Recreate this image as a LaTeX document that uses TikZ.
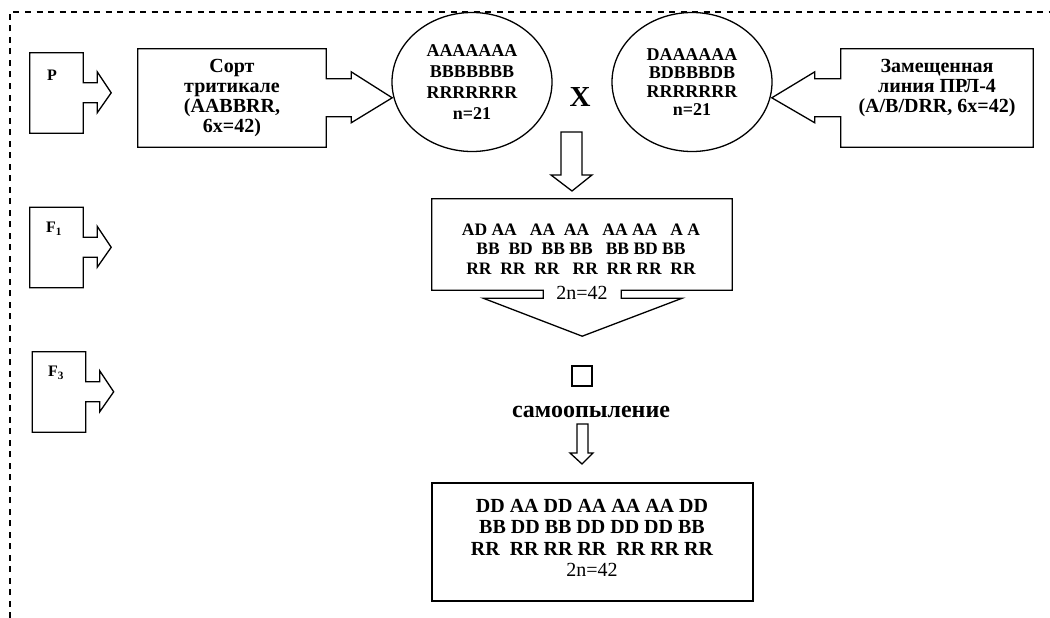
\documentclass[tikz,border=0pt]{standalone}
\usepackage{fontspec}
\setmainfont{Liberation Serif}
\usetikzlibrary{shapes.geometric}

\begin{document}
\begin{tikzpicture}[x=1pt, y=-1pt,
  frame/.style={line width=1.3pt, dash pattern=on 6pt off 5.5pt},
  outline/.style={draw, line width=1.3pt, line join=miter},
  genbox/.style={inner sep=0pt, minimum width=53pt, minimum height=80pt},
  genlabel/.style={inner sep=0pt, font=\fontsize{16}{16}\selectfont\bfseries},
  srcbox/.style={inner sep=0pt, minimum height=98pt},
  srctext/.style={align=center, inner sep=0pt, font=\fontsize{20}{19.7}\selectfont\bfseries},
  gamete/.style={draw, ellipse, line width=1.3pt, minimum width=160pt, minimum height=139pt, inner sep=0pt, align=center, font=\fontsize{18}{21}\selectfont\bfseries},
  fgeno/.style={align=center, inner sep=0pt, font=\fontsize{17.5}{19.5}\selectfont\bfseries},
  count/.style={inner sep=0pt, font=\fontsize{20}{20}\selectfont},
  resbox/.style={draw, line width=1.3pt, inner sep=0pt}
]
  \useasboundingbox (0,0) rectangle (1050,618);
  \draw[frame] (10,618) -- (10,12) -- (1050,12);

  % generation markers
  \node[genbox] (p) at (56.5,93) {};
  \node[genbox] (fone) at (56.5,247.5) {};
  \node[genbox] (fthree) at (59,392) {};
  \draw[outline] (p.north west) -- (p.north east) -- ++(0,30) -- ++(14,0) -- ++(0,-11) -- ++(14,21) -- ++(-14,20) -- ++(0,-10) -- ++(-14,0) -- (p.south east) -- (p.south west) -- cycle;
  \draw[outline] (fone.north west) -- (fone.north east) -- ++(0,30) -- ++(14,0) -- ++(0,-11) -- ++(14,21) -- ++(-14,20) -- ++(0,-10) -- ++(-14,0) -- (fone.south east) -- (fone.south west) -- cycle;
  \draw[outline] (fthree.north west) -- (fthree.north east) -- ++(0,30) -- ++(14,0) -- ++(0,-11) -- ++(14,21) -- ++(-14,20) -- ++(0,-10) -- ++(-14,0) -- (fthree.south east) -- (fthree.south west) -- cycle;
  \node[genlabel] (plab) at (52,75) {P};
  \node[genlabel] (fonelab) at (54,229) {F\textsubscript{1}};
  \node[genlabel] (fthreelab) at (56,373) {F\textsubscript{3}};

  % parents
  \node[srcbox, minimum width=188pt] (sort) at (232,98) {};
  \node[srcbox, minimum width=192pt] (zam) at (937,98) {};
  \draw[outline] (sort.north west) -- (sort.north east) -- ++(0,30) -- ++(25,0) -- ++(0,-7) -- ++(41,26) -- ++(-41,25) -- ++(0,-6) -- ++(-25,0) -- (sort.south east) -- (sort.south west) -- cycle;
  \draw[outline] (zam.north east) -- (zam.north west) -- ++(0,30) -- ++(-26,0) -- ++(0,-7) -- ++(-43,26) -- ++(43,25) -- ++(0,-6) -- ++(26,0) -- (zam.south west) -- (zam.south east) -- cycle;
  \node[srctext] (sorttext) at (sort) {Сорт\\тритикале\\(AABBRR,\\6x=42)};
  \node[srctext] (zamtext) at (937,88) {Замещенная\\линия ПРЛ-4\\(A/B/DRR, 6x=42)};

  \node[gamete] (gsort) at (472,82) {AAAAAAA\\BBBBBBB\\RRRRRRR\\n=21};
  \node[gamete, font=\fontsize{18}{18.5}\selectfont\bfseries] (gzam) at (692,82) {DAAAAAA\\BDBBBDB\\RRRRRRR\\n=21};
  \node[inner sep=0pt, font=\fontsize{29}{29}\selectfont\bfseries] (cross) at (580,97) {X};

  % F1
  \coordinate (dnone) at (561,132);
  \draw[outline] (dnone) -- ++(21,0) -- ++(0,43) -- ++(10,0) -- ++(-20,16) -- ++(-21,-16) -- ++(10,0) -- cycle;
  \node[inner sep=0pt, minimum width=300pt, minimum height=91pt] (fres) at (582,244.5) {};
  \draw[outline] (fres.south west) -- (fres.north west) -- (fres.north east) -- (fres.south east) -- ++(-111,0) -- ++(0,8) -- ++(61,0) -- ++(-100,38) -- ++(-99,-38) -- ++(60,0) -- ++(0,-8) -- cycle;
  \node[fgeno] (fonegeno) at (581,249) {AD AA~~~AA~~AA~~~AA AA~~~A A\\BB~~BD~~BB BB~~~BB BD BB\\RR~~RR~~RR~~~RR~~RR RR~~RR};
  \node[count] (fonecount) at (582,293) {2n=42};

  % selfing
  \node[draw, line width=1.1pt, minimum size=20pt, inner sep=0pt] (selfing) at (582,376) {};
  \node[inner sep=0pt, font=\fontsize{24}{24}\selectfont\bfseries] (selftext) at (591,412) {самоопыление};
  \coordinate (dnthree) at (577,424);
  \draw[outline] (dnthree) -- ++(11,0) -- ++(0,29) -- ++(5,0) -- ++(-11,11) -- ++(-12,-11) -- ++(7,0) -- cycle;

  % F3
  \node[resbox, minimum width=321pt, minimum height=118pt] (fthreeres) at (592.5,542) {};
  \node[align=center, inner sep=0pt, font=\fontsize{20}{21.3}\selectfont\bfseries] (fthreegeno) at (592,538) {DD AA DD AA AA AA DD\\BB DD BB DD DD DD BB\\RR~~RR RR RR~~RR RR RR\\\textmd{2n=42}};
\end{tikzpicture}
\end{document}
